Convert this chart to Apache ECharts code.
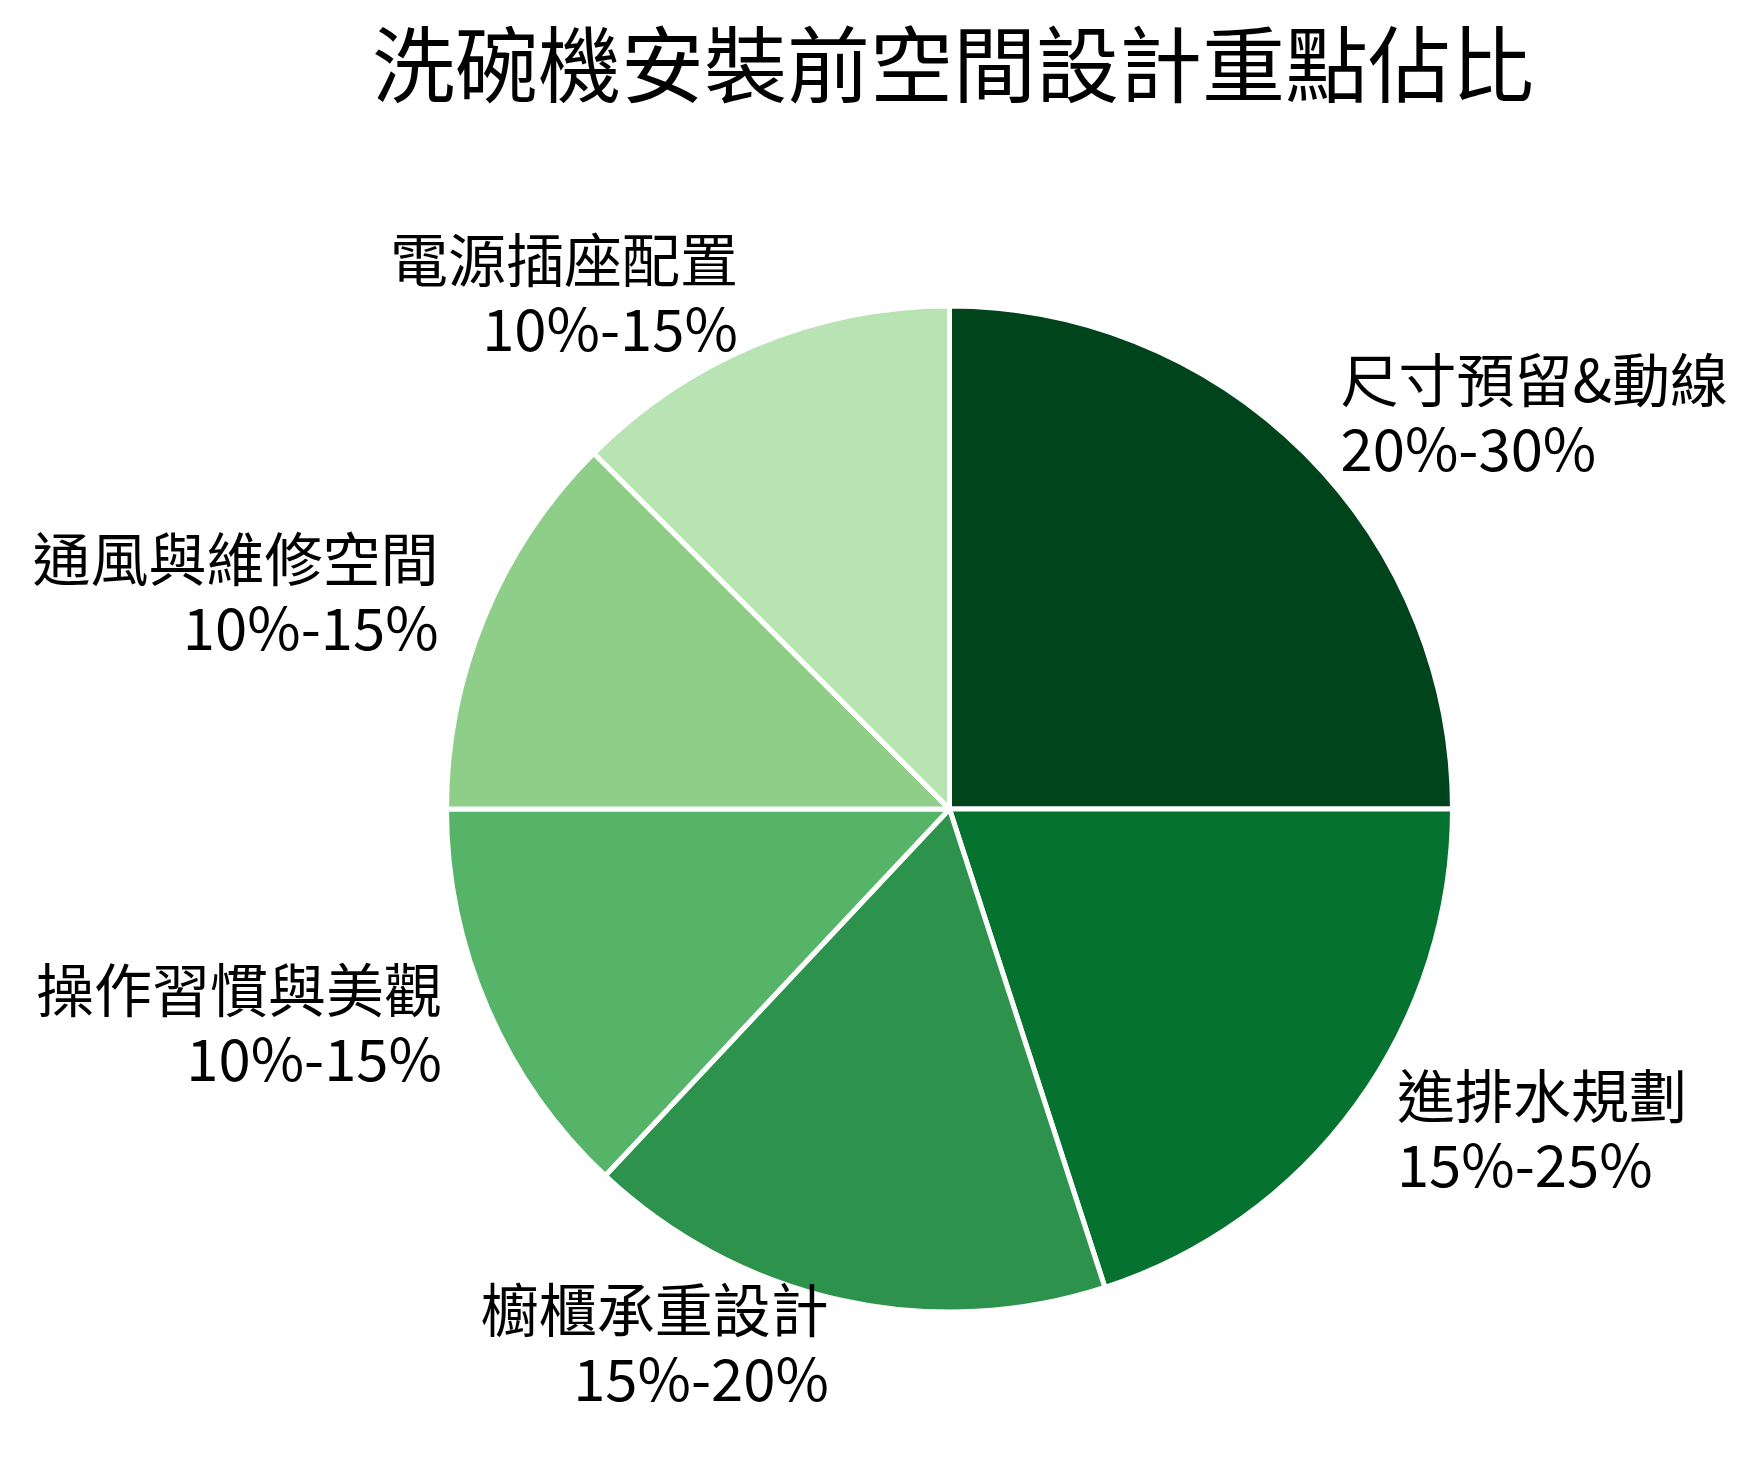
<!DOCTYPE html>
<html>
<head>
<meta charset="utf-8">
<script src="https://cdn.jsdelivr.net/npm/echarts@6/dist/echarts.min.js"></script>
<style>
html, body { margin: 0; padding: 0; background: #ffffff; }
#chart { width: 1761px; height: 1468px; }
</style>
</head>
<body>
<div id="chart"></div>
<script>
const titleText = '洗碗機安裝前空間設計重點佔比';
const categories = ['尺寸預留&動線', '進排水規劃', '櫥櫃承重設計', '操作習慣與美觀', '通風與維修空間', '電源插座配置'];
const rangeLabels = ['20%-30%', '15%-25%', '15%-20%', '10%-15%', '10%-15%', '10%-15%'];
const values = [25, 20, 17, 13, 12.5, 12.5];
const colors = ['#00441b', '#067230', '#2d934c', '#56b468', '#8ece88', '#b8e3b3'];

const FONT = '"Noto Sans CJK TC", "Noto Sans CJK SC", "Noto Sans", sans-serif';

const chart = echarts.init(document.getElementById('chart'), null, { renderer: 'canvas' });

const seriesData = categories.map((name, i) => ({
  name: name,
  value: values[i],
  range: rangeLabels[i],
  itemStyle: { color: colors[i] }
}));

chart.setOption({
  backgroundColor: '#ffffff',
  animation: false,
  title: {
    text: titleText,
    left: 367,
    top: 18,
    textStyle: {
      fontFamily: FONT,
      fontSize: 83,
      fontWeight: 'normal',
      color: '#000000'
    }
  },
  series: [{
    type: 'pie',
    center: [949.5, 809],
    radius: [0, 503],
    startAngle: 90,
    clockwise: true,
    avoidLabelOverlap: false,
    data: seriesData,
    itemStyle: {
      borderColor: '#ffffff',
      borderWidth: 5
    },
    label: {
      show: true,
      position: 'outside',
      distanceToLabelLine: 0,
      formatter: p => p.name + '\n' + p.data.range,
      fontFamily: FONT,
      fontSize: 58,
      lineHeight: 69,
      color: '#000000'
    },
    labelLayout: { dy: -4 },
    labelLine: {
      show: false,
      length: 50,
      length2: 0
    },
    emphasis: { disabled: true }
  }]
});
</script>
</body>
</html>
